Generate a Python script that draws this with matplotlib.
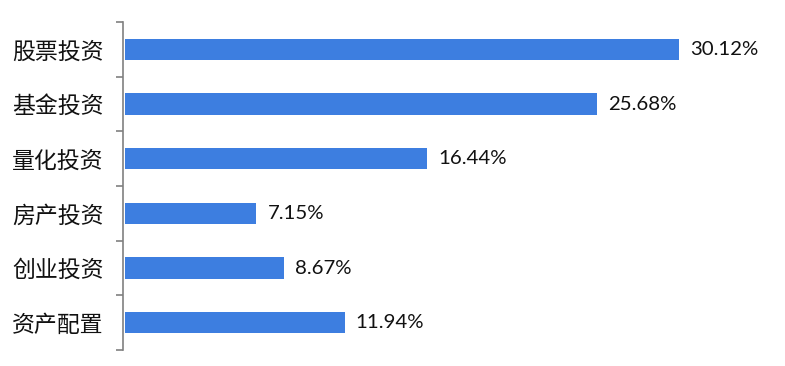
import matplotlib
matplotlib.use("Agg")
import matplotlib.pyplot as plt
import numpy as np

categories = ["股票投资", "基金投资", "量化投资", "房产投资", "创业投资", "资产配置"]
values = [30.12, 25.68, 16.44, 7.15, 8.67, 11.94]
labels = ["30.12%", "25.68%", "16.44%", "7.15%", "8.67%", "11.94%"]

plt.rcParams['font.family'] = ['Noto Sans CJK SC', 'DejaVu Sans']

fig = plt.figure(figsize=(7.85, 3.66), dpi=100)
ax = fig.add_axes([123 / 785, 16 / 366, 640 / 785, 328 / 366])

y = np.arange(len(categories))
ax.barh(y, values, height=0.39, color="#3D7EE0", left=0.1)

for yi, v, lab in zip(y, values, labels):
    ax.text(v + 0.1 + 0.6, yi, lab, va="center", ha="left",
            fontsize=14.7, family=["Lato", "DejaVu Sans"], color="#111111")

ax.set_ylim(len(categories) - 0.5, -0.5)
ax.set_xlim(0, 640 / 18.4)

ax.set_yticks(y)
ax.set_yticklabels(categories, fontsize=16.5, color="#111111")
ax.set_yticks(np.arange(len(categories) + 1) - 0.5, minor=True)
ax.tick_params(axis="y", which="major", length=0, pad=14)
ax.tick_params(axis="y", which="minor", length=5, width=1.2, color="#808080")
ax.set_xticks([])

for s in ["top", "right", "bottom"]:
    ax.spines[s].set_visible(False)
ax.spines["left"].set_color("#808080")
ax.spines["left"].set_linewidth(1.2)

fig.savefig("out.png", dpi=100)
